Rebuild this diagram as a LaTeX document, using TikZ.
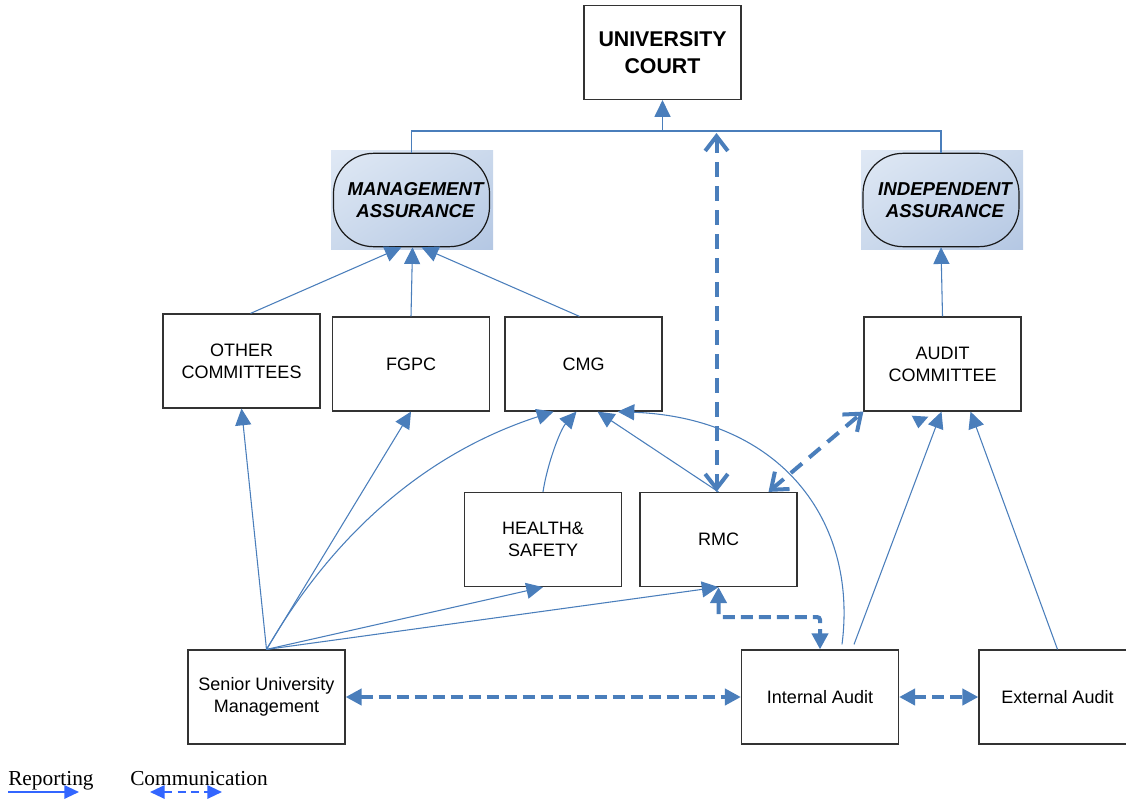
\documentclass[tikz,border=0pt]{standalone}
\usepackage{fontspec}
\setmainfont{Liberation Serif}
\setsansfont{Liberation Sans}
\usetikzlibrary{arrows.meta,calc,shadings}
\definecolor{lineblue}{RGB}{74,126,187}
\definecolor{keyblue}{RGB}{51,102,255}
\definecolor{shadelight}{RGB}{224,233,245}
\definecolor{shademid}{RGB}{203,217,236}
\definecolor{shadedark}{RGB}{180,199,227}
\tikzset{
  box/.style={draw=black!80, line width=0.9pt, fill=white, minimum width=117.75pt, minimum height=70.5pt, inner sep=0pt, align=center, font=\sffamily\fontsize{13.5}{16.5}\selectfont},
  assur/.style={draw=black!90, line width=0.9pt, rounded corners=30pt, minimum width=117pt, minimum height=70pt, inner sep=0pt, align=center, font=\sffamily\bfseries\itshape\fontsize{14}{16.5}\selectfont},
  link/.style={draw=lineblue, line width=0.8pt},
  rep/.style={link, -{Triangle[length=12.5pt,width=12pt]}},
  comm/.style={draw=lineblue, line width=3pt, dash pattern=on 9pt off 4.5pt, {Triangle[length=12pt,width=12pt]}-{Triangle[length=12pt,width=12pt]}},
  commv/.style={draw=lineblue, line width=3pt, dash pattern=on 11pt off 7pt, {Straight Barb[length=11pt,width=17pt]}-{Straight Barb[length=11pt,width=17pt]}},
}
\begin{document}
\begin{tikzpicture}[x=0.75pt,y=-0.75pt]
\clip (0,0) rectangle (1126,803);
% shaded panels behind the assurance boxes
\foreach \xa/\xb in {331/493, 861/1023}
{
	\shade[upper left=shadelight, upper right=shademid, lower left=shademid, lower right=shadedark] (\xa,150) rectangle (\xb,249);
}
% boxes
\node[box, font=\sffamily\bfseries\fontsize{16}{20}\selectfont] (court) at (662.5,52.5) {UNIVERSITY\\COURT};
\node[assur] (mgmt) at (411.5,200) {\hspace*{6pt}MANAGEMENT\\\hspace*{6pt}ASSURANCE};
\node[assur] (indep) at (941,200) {\hspace*{6pt}INDEPENDENT\\\hspace*{6pt}ASSURANCE};
\node[box] (other) at (241.5,361) {OTHER\\COMMITTEES};
\node[box] (fgpc) at (411,364) {FGPC};
\node[box] (cmg) at (583.5,364) {CMG};
\node[box] (audcom) at (942.5,364) {AUDIT\\COMMITTEE};
\node[box] (health) at (543,539.5) {HEALTH\&\\SAFETY};
\node[box] (rmc) at (718.5,539.5) {RMC};
\node[box] (senior) at (266.5,697) {Senior University\\Management};
\node[box] (intaud) at (820,697) {Internal Audit};
\node[box] (extaud) at (1057.5,697) {External Audit};
% reporting lines
\coordinate (bus) at (662.5,131);
\draw[link] (mgmt.north) -- (mgmt.north |- bus) -- (indep.north |- bus) -- (indep.north);
\draw[rep] (bus) -- (court.south);
\draw[rep] ($(other.north)+(9,0)$) -- ($(mgmt.south)+(-10,0)$);
\draw[rep] (fgpc.north) -- ($(mgmt.south)+(1,0)$);
\draw[rep] ($(cmg.north)+(-4,0)$) -- ($(mgmt.south)+(10,0)$);
\draw[rep] (audcom.north) -- (indep.south);
\draw[rep] (senior.north) -- (other.south);
\draw[rep] (senior.north) -- (fgpc.south);
\draw[rep] (senior.north) .. controls (330,540) and (420,455) .. ($(cmg.south)+(-30,0)$);
\draw[rep] (senior.north) -- (health.south);
\draw[rep] (senior.north) -- (rmc.south);
\draw[rep] (health.north) .. controls (547,465) and (560,430) .. ($(cmg.south)+(-7,0)$);
\draw[rep] (rmc.north) -- ($(cmg.south)+(14,0)$);
\draw[rep] ($(intaud.north)+(22,-5)$) .. controls (858,520) and (780,418) .. ($(cmg.south east)+(-45,0)$);
\draw[rep] ($(intaud.north)+(34,-5)$) -- ($(audcom.south)+(-1,0)$);
\draw[rep] (extaud.north) -- ($(audcom.south)+(28,0)$);
\fill[lineblue] (911.7,415.7) -- (928.3,416.7) -- (918.3,428.3) -- cycle;
% communication lines
\coordinate (commtop) at (716.5,133);
\draw[commv] (commtop) -- ($(rmc.north)+(-2,0)$);
\draw[commv] ($(rmc.north)+(50,0)$) -- (audcom.south west);
\draw[comm, rounded corners=2pt] (rmc.south) -- ++(0,30) -| (intaud.north);
\draw[comm] (senior.east) -- (intaud.west);
\draw[comm] (intaud.east) -- (extaud.west);
% key
\node[anchor=base west, inner sep=0pt, font=\fontsize{16}{19}\selectfont] (replabel) at (8,785) {Reporting};
\node[anchor=base west, inner sep=0pt, font=\fontsize{16}{19}\selectfont] (commlabel) at (130,785) {Communication};
\coordinate (repA) at (8,792);
\coordinate (repB) at (79,792);
\coordinate (commA) at (150,792);
\coordinate (commB) at (222,792);
\draw[keyblue, line width=1.5pt, -{Triangle[length=11pt,width=10pt]}] (repA) -- (repB);
\draw[keyblue, line width=1.5pt, dash pattern=on 6pt off 4pt, {Triangle[length=11pt,width=10pt]}-{Triangle[length=11pt,width=10pt]}] (commA) -- (commB);
\end{tikzpicture}
\end{document}
